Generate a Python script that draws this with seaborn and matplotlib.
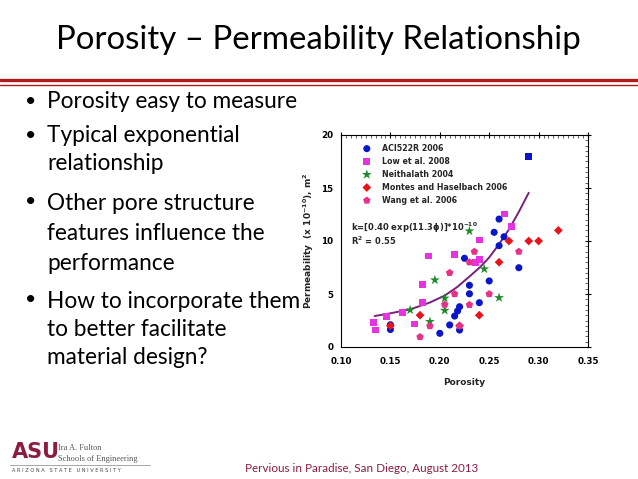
import numpy as np
import pandas as pd
import matplotlib
matplotlib.use("Agg")
import matplotlib.pyplot as plt
import seaborn as sns
from matplotlib.ticker import MultipleLocator
from matplotlib.lines import Line2D

# ---------------- data ----------------
aci_x = [0.150, 0.150, 0.200, 0.210, 0.215, 0.218, 0.220, 0.220, 0.225, 0.230, 0.230,
         0.240, 0.250, 0.255, 0.260, 0.260, 0.265, 0.280]
aci_y = [2.10, 1.65, 1.29, 2.08, 2.92, 3.40, 3.80, 1.60, 8.37, 5.82, 5.02,
         4.18, 6.23, 10.82, 12.07, 9.56, 10.40, 7.48]
aci_sq_x = [0.290]
aci_sq_y = [18.0]

low_x = [0.133, 0.135, 0.146, 0.162, 0.174, 0.1825, 0.1825, 0.1886, 0.2147, 0.236,
         0.240, 0.240, 0.2658, 0.2725]
low_y = [2.29, 1.60, 2.86, 3.24, 2.17, 4.18, 5.91, 8.58, 8.72, 8.00,
         8.27, 10.10, 12.55, 11.40]

nei_x = [0.170, 0.190, 0.195, 0.205, 0.205, 0.230, 0.245, 0.260]
nei_y = [3.49, 2.39, 6.32, 4.60, 3.45, 10.94, 7.36, 4.65]

mon_x = [0.150, 0.180, 0.220, 0.240, 0.260, 0.270, 0.290, 0.300, 0.320]
mon_y = [2.00, 3.00, 2.00, 3.00, 8.00, 10.00, 10.00, 10.00, 11.00]

wang_x = [0.180, 0.190, 0.205, 0.210, 0.215, 0.220, 0.230, 0.230, 0.235, 0.250, 0.280]
wang_y = [0.95, 1.98, 4.00, 7.00, 5.00, 2.00, 8.00, 3.98, 9.00, 5.00, 9.00]

fit_x = [0.134, 0.150, 0.170, 0.190, 0.205, 0.2175, 0.230, 0.241, 0.250, 0.260, 0.270, 0.280, 0.290]
fit_y = [2.92, 3.18, 3.55, 4.20, 4.85, 5.65, 6.65, 7.55, 8.45, 9.70, 11.10, 12.75, 14.55]

series_names = ["ACI522R 2006", "Low et al. 2008", "Neithalath 2004",
                "Montes and Haselbach 2006", "Wang et al. 2006"]

x_ticks = [0.10, 0.15, 0.20, 0.25, 0.30, 0.35]
y_ticks = [0, 5, 10, 15, 20]

title_text = "Porosity \u2013 Permeability Relationship"
bullets = [
    ["Porosity easy to measure"],
    ["Typical exponential", "relationship"],
    ["Other pore structure", "features influence the", "performance"],
    ["How to incorporate them", "to better facilitate", "material design?"],
]
footer_text = "Pervious in Paradise, San Diego, August 2013"

# ---------------- build table ----------------
frames = []
for name, xs, ys in zip(series_names,
                        [aci_x, low_x, nei_x, mon_x, wang_x],
                        [aci_y, low_y, nei_y, mon_y, wang_y]):
    frames.append(pd.DataFrame({"Porosity": xs, "Permeability": ys, "Source": name}))
df = pd.concat(frames, ignore_index=True)

palette = {
    "ACI522R 2006": "#0a14c8",
    "Low et al. 2008": "#e633e0",
    "Neithalath 2004": "#1f8a2a",
    "Montes and Haselbach 2006": "#e8141c",
    "Wang et al. 2006": "#e63289",
}
markers = {
    "ACI522R 2006": "o",
    "Low et al. 2008": "s",
    "Neithalath 2004": "*",
    "Montes and Haselbach 2006": "D",
    "Wang et al. 2006": "p",
}
sizes = {"ACI522R 2006": 26, "Low et al. 2008": 24, "Neithalath 2004": 55,
         "Montes and Haselbach 2006": 20, "Wang et al. 2006": 32}

sns.set_theme(style="white")
plt.rcParams["font.family"] = ["DejaVu Sans"]

fig = plt.figure(figsize=(6.38, 4.79), dpi=100)
fig.patch.set_facecolor("white")

# ---------------- slide decorations ----------------
fig.text(318.5 / 638, 1 - 40 / 479, title_text, ha="center", va="center",
         fontsize=23.8, family="Lato", color="black")
fig.add_artist(Line2D([0, 1], [1 - 79.5 / 479] * 2, color="#b01c1c", lw=2.4))
fig.add_artist(Line2D([0, 1], [1 - 84.5 / 479] * 2, color="#b01c1c", lw=1.0))

line_ys = [[102], [136, 164], [203, 234, 263], [301, 329, 357]]
for blines, ys in zip(bullets, line_ys):
    fig.text(25 / 638, 1 - (ys[0] - 1) / 479, "\u2022", ha="left", va="center",
             fontsize=14, family="Lato", color="black")
    for t, yy in zip(blines, ys):
        fig.text(47 / 638, 1 - yy / 479, t, ha="left", va="center",
                 fontsize=16.3, family="Lato", color="black")

# footer
fig.text(362 / 638, 1 - 469 / 479, footer_text, ha="center", va="center",
         fontsize=8.4, family="Lato", color="#8c1d40")
fig.text(12 / 638, 1 - 452 / 479, "ASU", ha="left", va="center", fontsize=15,
         fontweight="heavy", family="DejaVu Sans", color="#8c1d40")
fig.text(58 / 638, 1 - 448 / 479, "Ira A. Fulton", ha="left", va="center",
         fontsize=6, family="Liberation Serif", color="#555555")
fig.text(58 / 638, 1 - 459 / 479, "Schools of Engineering", ha="left", va="center",
         fontsize=6, family="Liberation Serif", color="#555555")
fig.add_artist(Line2D([10 / 638, 150 / 638], [1 - 465 / 479] * 2, color="#999999", lw=0.6))
fig.text(12 / 638, 1 - 471 / 479, "A R I Z O N A   S T A T E   U N I V E R S I T Y",
         ha="left", va="center", fontsize=3.6, family="DejaVu Sans", color="#444444")

# ---------------- chart ----------------
ax = fig.add_axes([341 / 638, 1 - 347 / 479, 247 / 638, 212 / 479])
ax.set_facecolor("white")

ax.plot(fit_x, fit_y, color="#7a1f7a", lw=1.4, zorder=1)

for name in series_names:
    sub = df[df["Source"] == name]
    sns.scatterplot(data=sub, x="Porosity", y="Permeability", ax=ax,
                    color=palette[name], marker=markers[name], s=sizes[name],
                    edgecolor="none", label=name, zorder=3)
sns.scatterplot(x=aci_sq_x, y=aci_sq_y, ax=ax, color=palette["ACI522R 2006"],
                marker="s", s=24, edgecolor="none", zorder=3, legend=False)

ax.set_xlim(0.10, 0.35)
ax.set_ylim(0, 20)
ax.set_xticks(x_ticks)
ax.set_xticklabels([f"{v:.2f}" for v in x_ticks])
ax.set_yticks(y_ticks)
ax.set_yticklabels([str(v) for v in y_ticks])
ax.xaxis.set_minor_locator(MultipleLocator(0.005))
ax.yaxis.set_minor_locator(MultipleLocator(0.5))
ax.tick_params(which="major", direction="inout", length=5, width=0.8,
               top=True, right=True, labelsize=6.3, colors="black")
ax.tick_params(axis="x", which="major", pad=5)
ax.tick_params(axis="y", which="major", pad=3)
ax.tick_params(which="minor", direction="in", length=2, width=0.5,
               top=True, right=True)
for lab in ax.get_xticklabels() + ax.get_yticklabels():
    lab.set_fontweight("bold")
for sp in ax.spines.values():
    sp.set_color("black")
    sp.set_linewidth(0.8)

ax.set_xlabel("Porosity", fontsize=6.5, fontweight="bold", labelpad=8)
ax.set_ylabel("Permeability  (x 10$^{\\mathbf{-10}}$), m$^{\\mathbf{2}}$",
              fontsize=6.5, fontweight="bold", labelpad=4)

leg = ax.legend(loc="upper left", bbox_to_anchor=(0.05, 0.985), frameon=False,
                fontsize=5.7, handletextpad=0.9, labelspacing=0.5, borderpad=0.2)
for t in leg.get_texts():
    t.set_fontweight("bold")

ax.text(0.04, 0.56, "k=[0.40 exp(11.3\u03d5)]*10$^{\\mathbf{-10}}$", transform=ax.transAxes,
        fontsize=6, fontweight="bold", ha="left", va="center")
ax.text(0.04, 0.50, "R$^{\\mathbf{2}}$ = 0.55", transform=ax.transAxes,
        fontsize=6, fontweight="bold", ha="left", va="center")

fig.savefig("out.png", dpi=100, facecolor="white")
